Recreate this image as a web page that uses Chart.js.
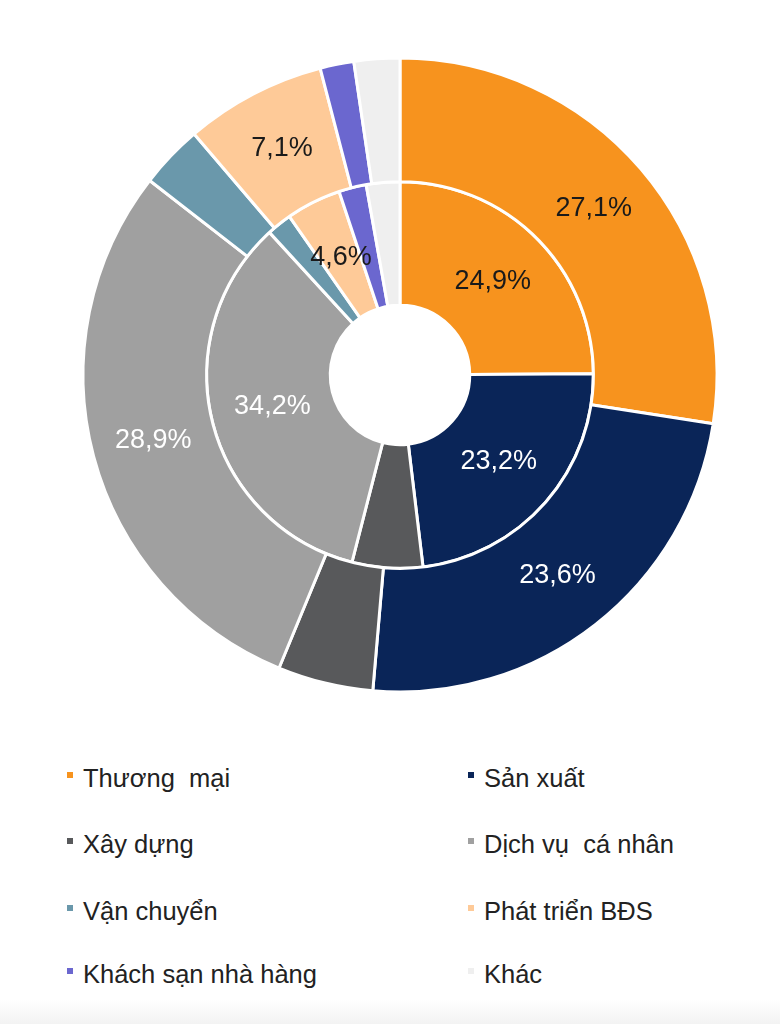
<!DOCTYPE html>
<html>
<head>
<meta charset="utf-8">
<script src="https://cdn.jsdelivr.net/npm/chart.js@4"></script>
<style>
  body { margin: 0; background: #fff; font-family: "Liberation Sans", Arial, sans-serif; }
  #wrap { position: relative; width: 780px; height: 1024px; overflow: hidden; }
  #chart-box { position: absolute; left: 0; top: 0; width: 780px; height: 740px; }
  #legend { position: absolute; left: 0; top: 0; width: 780px; }
  .item { position: absolute; font-size: 25.5px; color: #222; white-space: pre; line-height: 28px; }
  .item span.box { position: absolute; width: 6px; height: 6px; left: -16px; top: 8px; }
  #strip { position: absolute; left: 0; top: 1000px; width: 780px; height: 24px;
    background: linear-gradient(#fff, #f3f3f3); }
</style>
</head>
<body>
<div id="wrap">
  <div id="chart-box"><canvas id="sectors"></canvas></div>
  <div id="legend"></div>
  <div id="strip"></div>
</div>
<script>
let categories = ['Thương  mại', 'Sản xuất', 'Xây dựng', 'Dịch vụ  cá nhân', 'Vận chuyển', 'Phát triển BĐS', 'Khách sạn nhà hàng', 'Khác'];
let colors = ['#F7931E', '#0A2558', '#58595B', '#A0A0A0', '#6A98AB', '#FECA98', '#6B67CF', '#EFEFEF'];
let labelColors = ['#1a1a1a', '#ffffff', '#ffffff', '#ffffff', '#ffffff', '#1a1a1a', '#ffffff', '#1a1a1a'];

// outer ring (first dataset) and inner ring, in %
let outerValues = [27.1, 23.6, 4.8, 28.9, 3.2, 7.1, 1.7, 2.3];
let innerValues = [24.9, 23.2, 5.9, 34.2, 2.1, 4.6, 2.3, 2.8];
// which slices carry a printed label
let outerShown = [true, true, false, true, false, true, false, false];
let innerShown = [true, true, false, true, false, true, false, false];

let fmt = v => v.toFixed(1).replace('.', ',') + '%';

let sliceLabels = {
	id: 'sliceLabels',
	afterDatasetsDraw(chart) {
		const c = chart.ctx;
		const shown = [outerShown, innerShown];
		c.save();
		c.font = '27px "Liberation Sans", Arial, sans-serif';
		c.textAlign = 'center';
		c.textBaseline = 'middle';
		chart.data.datasets.forEach((ds, di) => {
			chart.getDatasetMeta(di).data.forEach((arc, i) => {
				if (!shown[di][i]) return;
				const p = arc.tooltipPosition();
				c.fillStyle = labelColors[i];
				c.fillText(fmt(ds.data[i]), p.x, p.y);
			});
		});
		c.restore();
	}
};

const ctx = document.getElementById('sectors').getContext('2d');
const chart = new Chart(ctx, {
	type: 'doughnut',
	data: {
		labels: categories,
		datasets: [{
			data: outerValues,
			backgroundColor: colors,
			borderColor: '#ffffff',
			borderWidth: 3
		}, {
			data: innerValues,
			backgroundColor: colors,
			borderColor: '#ffffff',
			borderWidth: 3
		}]
	},
	options: {
		responsive: true,
		maintainAspectRatio: false,
		animation: false,
		cutout: '22%',
		hoverOffset: 0,
		layout: {
			padding: { left: 81.5, right: 61.5, top: 56.5, bottom: 46.5 }
		},
		plugins: {
			legend: { display: false },
			tooltip: { enabled: false }
		}
	},
	plugins: [sliceLabels]
});

// two-column legend under the chart
let legend = document.getElementById('legend');
let colX = [83, 484];
let rowY = [764, 830, 897, 960];
categories.forEach((name, i) => {
	let el = document.createElement('div');
	el.className = 'item';
	el.style.left = colX[i % 2] + 'px';
	el.style.top = rowY[Math.floor(i / 2)] + 'px';
	let box = document.createElement('span');
	box.className = 'box';
	box.style.background = colors[i];
	el.appendChild(box);
	el.appendChild(document.createTextNode(name));
	legend.appendChild(el);
});
</script>
</body>
</html>
